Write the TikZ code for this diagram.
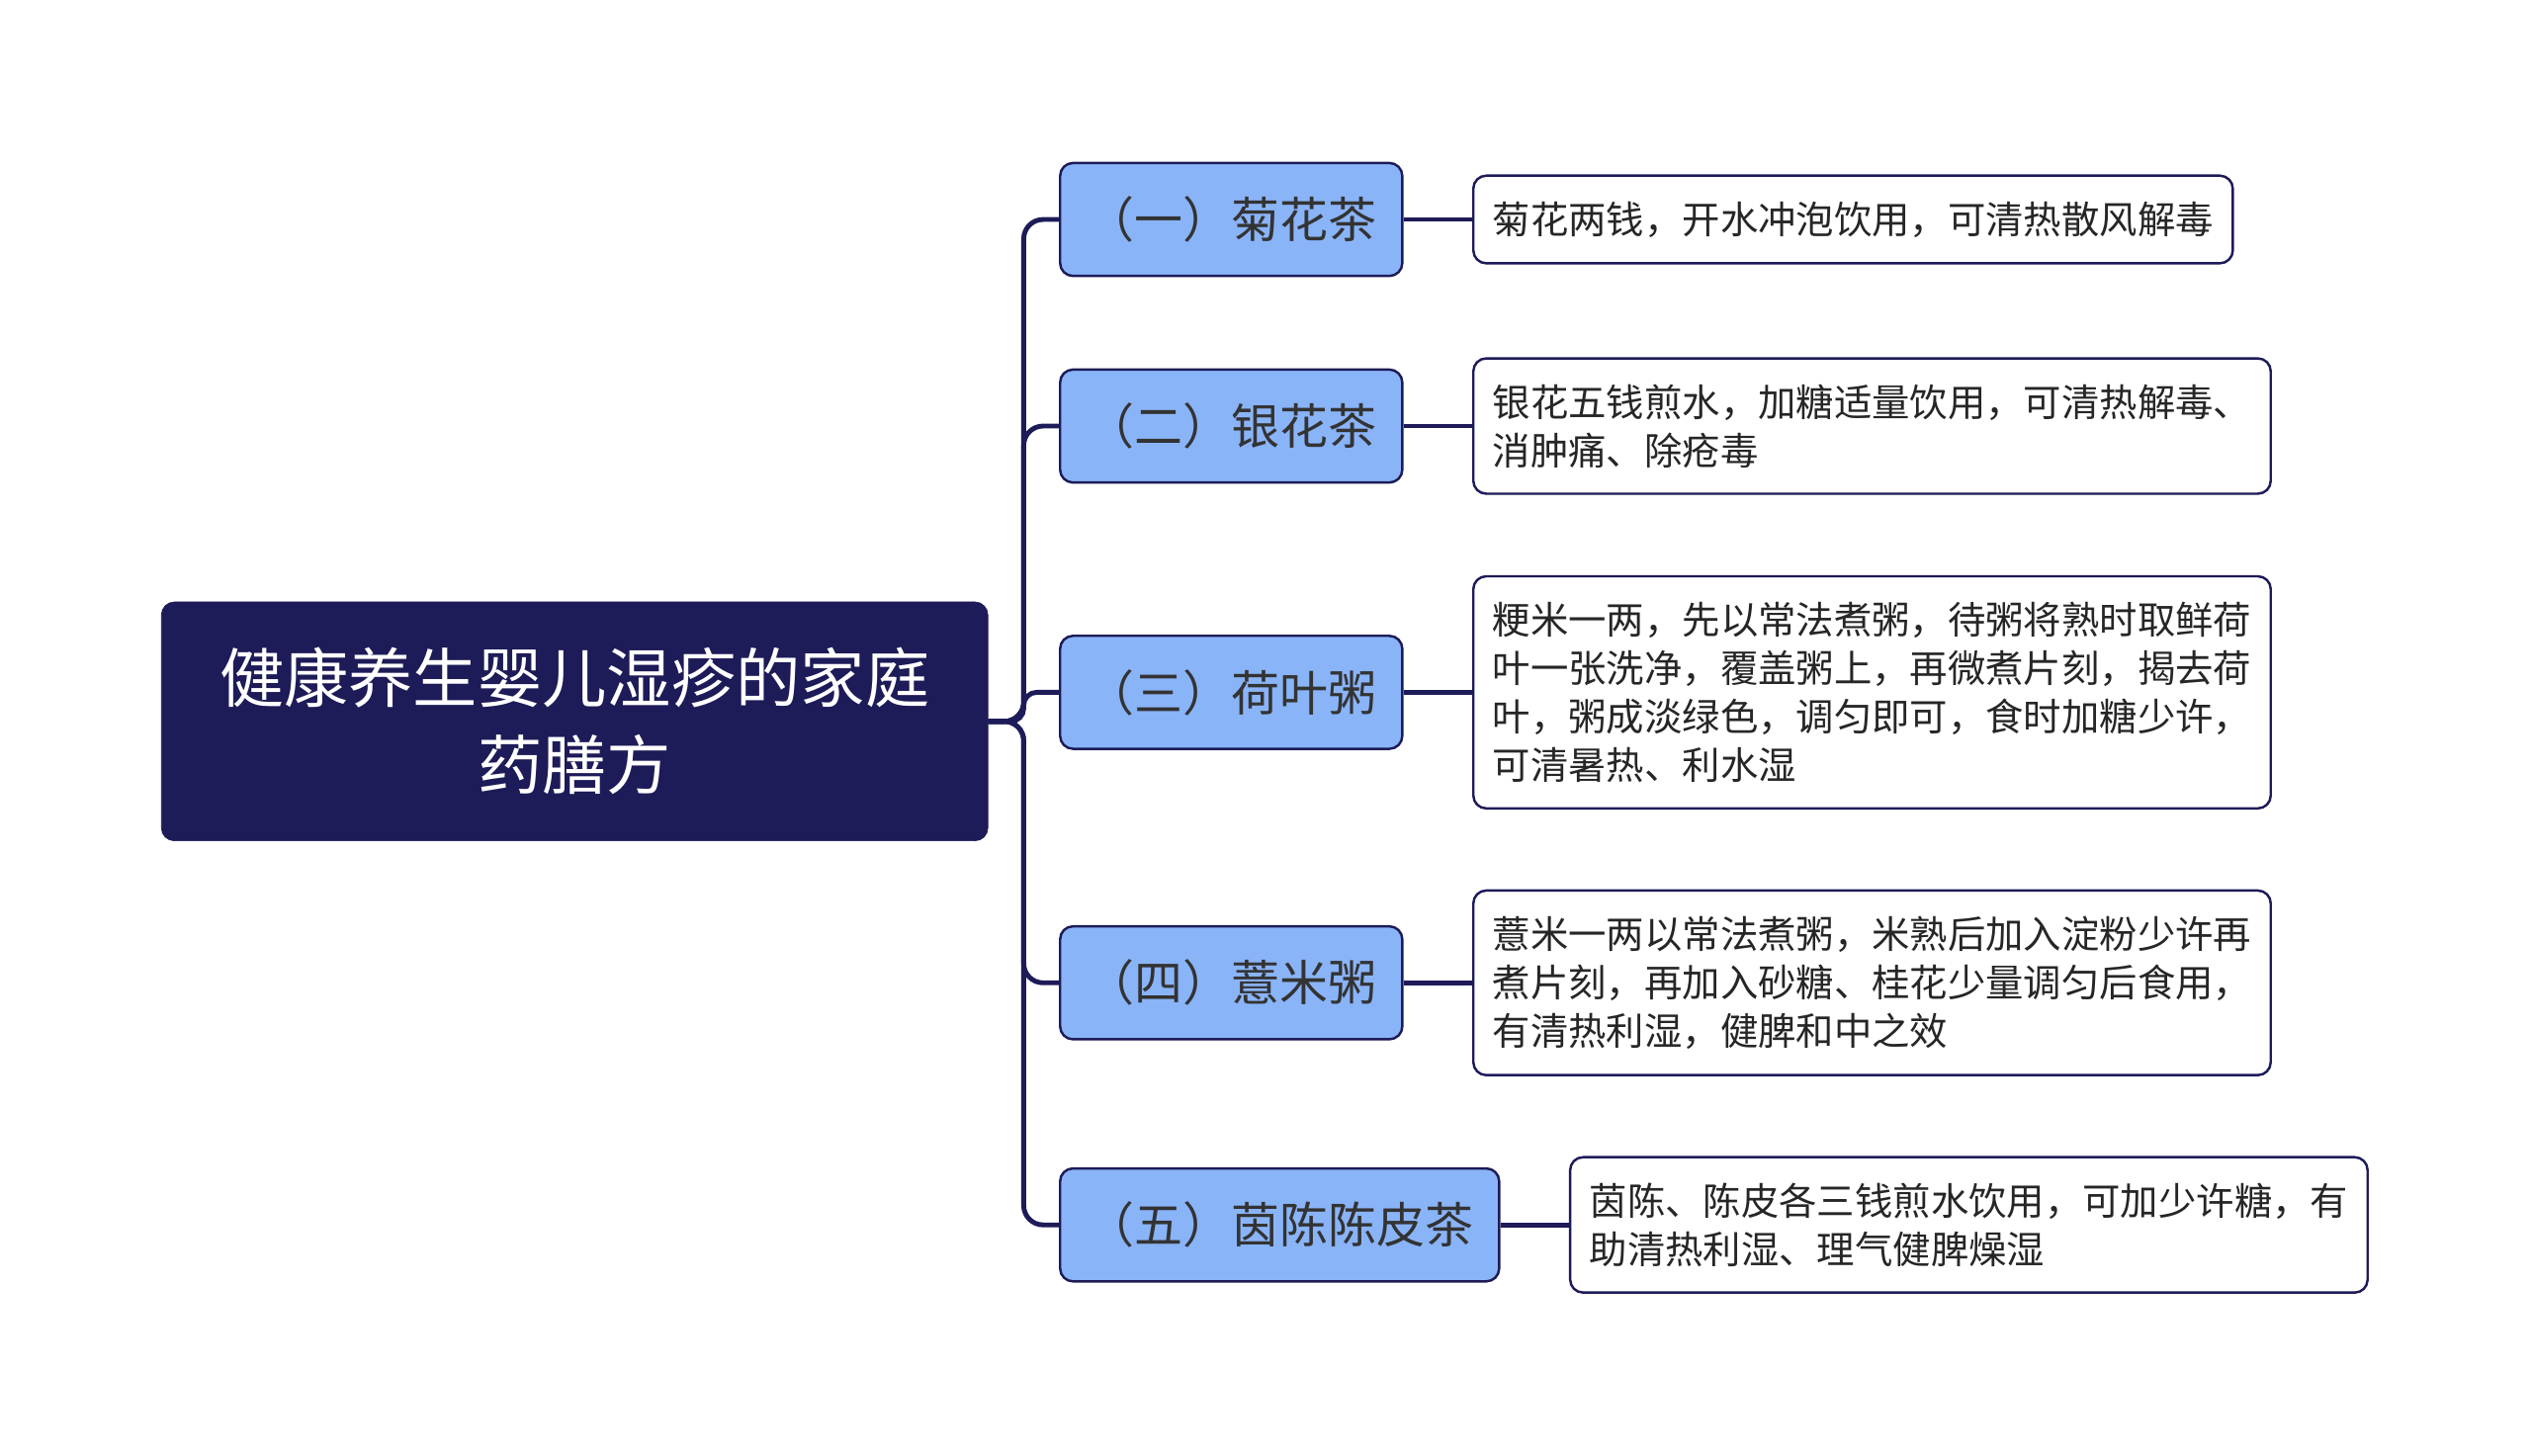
\documentclass[tikz,border=0pt]{standalone}
\usepackage{fontspec}
\usepackage{xcolor}
\usepackage{tikz}
\usetikzlibrary{positioning}
\newfontfamily\cjk{Noto Sans CJK SC}
\definecolor{mapnavy}{RGB}{29, 27, 88}
\definecolor{mapblue}{RGB}{138, 180, 248}
\definecolor{maptext}{RGB}{51, 51, 51}

\begin{document}
\begin{tikzpicture}[
    x=1pt, y=-1pt,
    node distance=42.5pt,
    rootbox/.style={draw=mapnavy, fill=mapnavy, rounded corners=8pt, text=white, align=center, minimum width=512pt, minimum height=148pt, font=\cjk\fontsize{40}{54}\selectfont},
    topicbox/.style={draw=mapnavy, line width=1.5pt, fill=mapblue, rounded corners=8pt, text=maptext, minimum width=212pt, minimum height=70pt, inner xsep=16pt, font=\cjk\fontsize{30}{36}\selectfont},
    notebox/.style={draw=mapnavy, line width=1.5pt, fill=white, rounded corners=8pt, text=black!85, align=left, inner xsep=12pt, inner ysep=16pt, font=\cjk\fontsize{23.5}{30}\selectfont},
    link/.style={draw=mapnavy, line width=3pt}
]

    \useasboundingbox (0,0) rectangle (1568,902);

    \node[rootbox] (root) at (356,447) {健康养生婴儿湿疹的家庭\\药膳方};

    \node[topicbox, anchor=west] (t1) at (656,136) {（一）菊花茶};
    \node[topicbox, anchor=west] (t2) at (656,264) {（二）银花茶};
    \node[topicbox, anchor=west] (t3) at (656,429) {（三）荷叶粥};
    \node[topicbox, anchor=west] (t4) at (656,609) {（四）薏米粥};
    \node[topicbox, anchor=west] (t5) at (656,759) {（五）茵陈陈皮茶};

    \node[notebox, right=of t1] (n1) {菊花两钱，开水冲泡饮用，可清热散风解毒};
    \node[notebox, right=of t2] (n2) {银花五钱煎水，加糖适量饮用，可清热解毒、\\消肿痛、除疮毒};
    \node[notebox, right=of t3] (n3) {粳米一两，先以常法煮粥，待粥将熟时取鲜荷\\叶一张洗净，覆盖粥上，再微煮片刻，揭去荷\\叶，粥成淡绿色，调匀即可，食时加糖少许，\\可清暑热、利水湿};
    \node[notebox, right=of t4] (n4) {薏米一两以常法煮粥，米熟后加入淀粉少许再\\煮片刻，再加入砂糖、桂花少量调匀后食用，\\有清热利湿，健脾和中之效};
    \node[notebox, right=of t5] (n5) {茵陈、陈皮各三钱煎水饮用，可加少许糖，有\\助清热利湿、理气健脾燥湿};

    % root to topics
    \draw[link, rounded corners=12pt] (root.east) -- ++(22,0) |- (t1.west);
    \draw[link, rounded corners=12pt] (root.east) -- ++(22,0) |- (t2.west);
    \draw[link, rounded corners=8pt] (root.east) -- ++(22,0) |- (t3.west);
    \draw[link, rounded corners=12pt] (root.east) -- ++(22,0) |- (t4.west);
    \draw[link, rounded corners=12pt] (root.east) -- ++(22,0) |- (t5.west);

    % topics to notes
    \draw[link] (t1.east) -- (n1.west);
    \draw[link] (t2.east) -- (n2.west);
    \draw[link] (t3.east) -- (n3.west);
    \draw[link] (t4.east) -- (n4.west);
    \draw[link] (t5.east) -- (n5.west);

\end{tikzpicture}
\end{document}
